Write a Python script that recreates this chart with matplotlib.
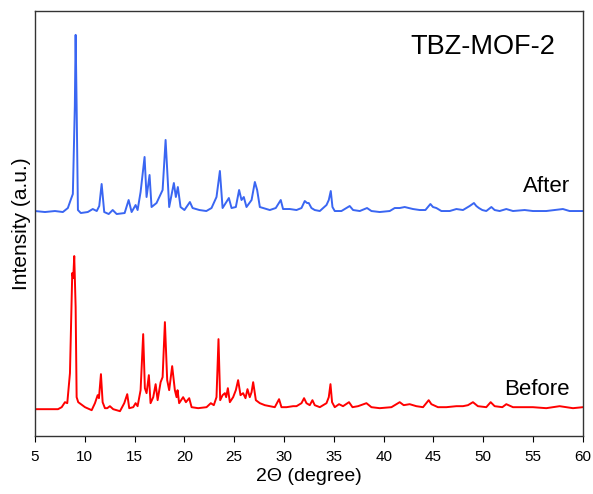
import matplotlib
matplotlib.use('Agg')
import matplotlib.pyplot as plt

plt.rcParams['font.family'] = ['Liberation Sans', 'DejaVu Sans']

# 2-theta (degree) / intensity (a.u., as plotted)
after_x = [5.0, 6.0, 7.0, 7.8, 8.3, 8.58, 8.8, 9.0, 9.08, 9.18, 9.31, 9.6, 10.3,
           10.8, 11.2, 11.45, 11.69, 11.95, 12.4, 12.8, 13.2, 14.0, 14.4, 14.7,
           15.1, 15.3, 15.6, 16.0, 16.2, 16.5, 16.7, 17.2, 17.81, 18.11, 18.47,
           18.94, 19.14, 19.34, 19.61, 20.0, 20.55, 20.82, 21.5, 22.2, 22.72,
           23.22, 23.56, 23.83, 24.46, 24.73, 25.16, 25.49, 25.73, 25.96, 26.23,
           26.74, 27.07, 27.3, 27.57, 28.57, 29.17, 29.67, 29.9, 30.58, 31.25,
           31.75, 32.08, 32.31, 32.48, 32.75, 33.08, 33.59, 34.26, 34.49, 34.69,
           34.86, 35.09, 35.76, 36.59, 36.93, 37.6, 38.33, 38.77, 39.6, 40.61,
           41.11, 41.61, 42.11, 42.94, 43.62, 44.19, 44.69, 44.95, 45.29, 45.79,
           46.63, 47.3, 47.96, 48.63, 49.06, 49.3, 49.56, 49.9, 50.3, 50.81,
           51.14, 51.64, 52.31, 52.98, 54.15, 54.98, 56.32, 57.99, 58.66, 60.0]
after_y = [225, 224, 225, 224, 228, 236, 242, 330, 401, 330, 226, 223, 224,
           227, 225, 230, 252, 224, 222, 226, 222, 223, 236, 224,
           231, 226, 244, 279, 239, 261, 229, 233, 246, 296, 229,
           253, 239, 249, 229, 226, 234, 228, 226, 225, 228,
           239, 265, 228, 238, 228, 229, 246, 236, 239, 229,
           236, 254, 246, 229, 226, 228, 236, 227, 227, 226,
           228, 235, 233, 233, 228, 226, 225, 231, 236, 245,
           229, 225, 225, 230, 226, 225, 228, 225, 224, 225,
           228, 228, 229, 227, 226, 226, 232, 229, 228, 225,
           225, 227, 226, 230, 233, 230, 228, 226, 225, 229,
           226, 225, 227, 225, 226, 225, 225, 227, 225, 225]

before_x = [5.0, 6.0, 7.31, 7.68, 8.01, 8.24, 8.51, 8.74, 8.84, 8.94, 9.08, 9.18,
            9.34, 10.02, 10.69, 11.02, 11.29, 11.42, 11.62, 11.79, 12.02, 12.25,
            12.52, 12.85, 13.53, 13.96, 14.26, 14.46, 14.86, 15.1, 15.3, 15.6,
            15.86, 16.03, 16.2, 16.43, 16.6, 16.87, 17.11, 17.31, 17.61, 17.81,
            18.04, 18.27, 18.47, 18.77, 19.04, 19.21, 19.31, 19.47, 19.87, 20.15,
            20.48, 20.72, 21.38, 22.22, 22.65, 22.95, 23.22, 23.42, 23.59, 23.83,
            24.06, 24.19, 24.36, 24.56, 24.89, 25.16, 25.39, 25.63, 25.89, 26.13,
            26.33, 26.56, 26.74, 26.9, 27.17, 27.57, 28.07, 28.57, 29.07, 29.5,
            29.74, 30.25, 30.91, 31.25, 31.75, 32.01, 32.25, 32.58, 32.85, 33.08,
            33.59, 34.26, 34.49, 34.66, 34.82, 35.09, 35.52, 35.92, 36.52, 36.87,
            37.43, 38.27, 38.77, 39.6, 40.78, 41.61, 42.01, 42.61, 43.28, 43.95,
            44.52, 44.79, 45.45, 46.29, 47.3, 47.96, 48.46, 48.96, 49.46, 50.3,
            50.74, 51.14, 51.91, 52.31, 52.98, 53.82, 54.98, 56.32, 57.66, 58.33,
            59.0, 60.0]
before_y = [27, 27, 27, 29, 34, 33, 63, 163, 158, 180, 129, 39,
            34, 29, 26, 33, 41, 38, 62, 34, 28, 28,
            30, 27, 25, 33, 42, 28, 29, 33, 30, 46,
            102, 48, 43, 61, 33, 39, 52, 36, 54, 59,
            114, 56, 46, 70, 46, 39, 46, 33, 39, 34,
            38, 29, 28, 29, 33, 31, 39, 97, 36, 41,
            43, 39, 48, 34, 39, 46, 56, 41, 43, 38,
            47, 39, 44, 54, 36, 33, 31, 30, 29, 37,
            29, 29, 30, 30, 33, 38, 33, 31, 36, 31,
            29, 33, 39, 52, 34, 29, 32, 30, 34, 29,
            30, 33, 29, 28, 29, 34, 31, 32, 30, 29,
            36, 32, 29, 29, 30, 30, 31, 34, 30, 29,
            34, 30, 29, 32, 29, 29, 29, 28, 30, 29,
            28, 29]

x_ticks = [5, 10, 15, 20, 25, 30, 35, 40, 45, 50, 55, 60]

fig = plt.figure(figsize=(5.93, 4.94), dpi=100)
ax = fig.add_axes([0.059, 0.117, 0.924, 0.861])

ax.plot(after_x, after_y, color='#3a66f2', lw=1.4)
ax.plot(before_x, before_y, color='#ff0000', lw=1.4)

ax.set_xlim(5, 60)
ax.set_ylim(0, 425)
ax.set_xticks(x_ticks)
ax.set_yticks([])
ax.tick_params(axis='x', direction='out', length=4, labelsize=11, pad=6)

for s in ax.spines.values():
    s.set_linewidth(1.0)
    s.set_color('#333333')

ax.set_xlabel('2\u0398 (degree)', fontsize=14, labelpad=3)
ax.set_ylabel('Intensity (a.u.)', fontsize=15, labelpad=3)

ax.text(0.949, 0.915, 'TBZ-MOF-2', transform=ax.transAxes, ha='right',
        va='center', fontsize=19.5)
ax.text(0.976, 0.586, 'After', transform=ax.transAxes, ha='right',
        va='center', fontsize=16)
ax.text(0.976, 0.11, 'Before', transform=ax.transAxes, ha='right',
        va='center', fontsize=16)

fig.savefig('out.png', dpi=100)
